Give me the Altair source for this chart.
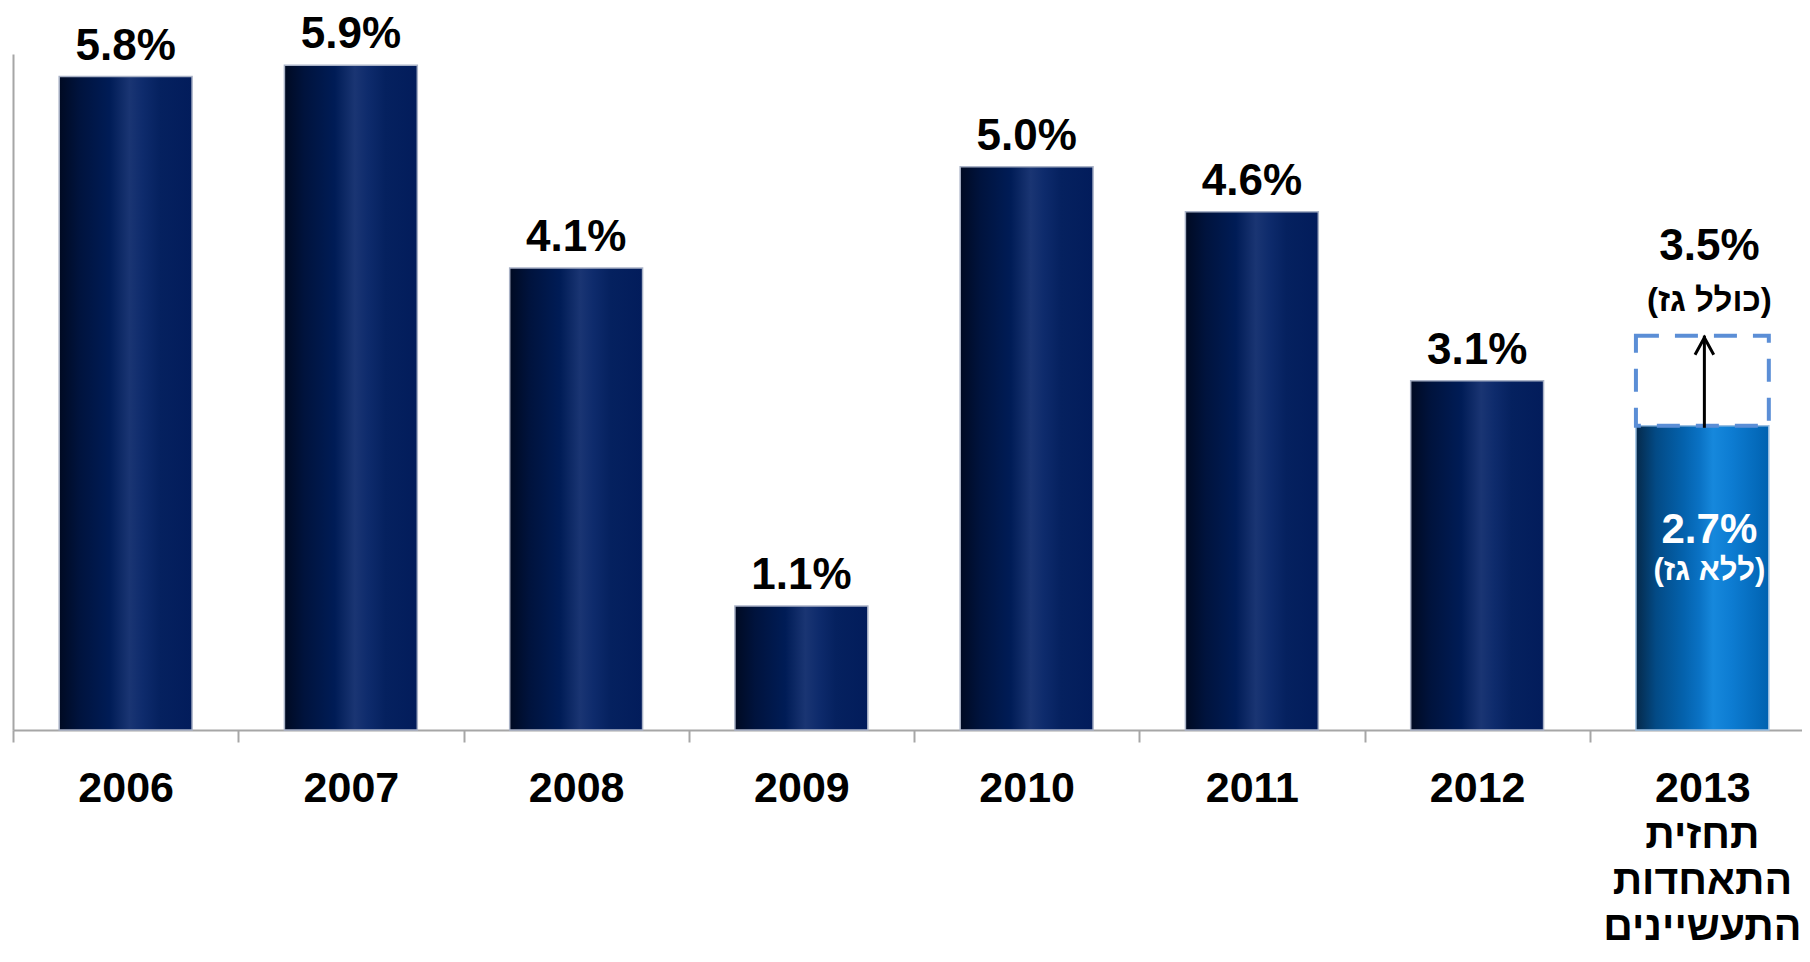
import altair as alt
import pandas as pd

# ---- data ----
years = ["2006", "2007", "2008", "2009", "2010", "2011", "2012", "2013"]
growth = [5.8, 5.9, 4.1, 1.1, 5.0, 4.6, 3.1, 2.7]
series = ["actual", "actual", "actual", "actual", "actual", "actual", "actual", "forecast"]

forecast_year = ["2013"]
forecast_without_gas = [2.7]
forecast_with_gas = [3.5]
with_gas_note = ["(כולל גז)"]
without_gas_note = ["(ללא גז)"]
forecast_caption_lines = ["תחזית", "התאחדות", "התעשיינים"]

FONT = "Liberation Sans, Arial, DejaVu Sans, sans-serif"

df = pd.DataFrame({"year": years, "growth": growth, "series": series})
fc = pd.DataFrame({
    "year": forecast_year,
    "low": forecast_without_gas,
    "high": forecast_with_gas,
    "note_hi": with_gas_note,
    "note_lo": without_gas_note,
    "caption": [forecast_caption_lines],
})

X_RANGE = 1802          # full category extent (runs past the visible edge like the reference)
HALF_STEP = X_RANGE / len(years) / 2

x_enc = alt.X(
    "year:N",
    sort=years,
    scale=alt.Scale(domain=years, range=[0, X_RANGE], paddingInner=0.41, paddingOuter=0.205),
    axis=alt.Axis(
        title=None,
        labelAngle=0,
        tickSize=12,
        tickWidth=2,
        tickColor="#a6a6a6",
        tickOffset=-HALF_STEP,
        labelOffset=HALF_STEP,
        domainColor="#a6a6a6",
        domainWidth=2,
        labelFont=FONT,
        labelFontSize=43,
        labelFontWeight="bold",
        labelColor="black",
        labelPadding=59,
        labelBaseline="alphabetic",
        labelLimit=0,
    ),
)

y_scale = alt.Scale(domain=[0, 6], nice=False, zero=True)
y_axis = alt.Axis(title=None, labels=False, ticks=False, grid=False,
                  domainColor="#a6a6a6", domainWidth=2)

navy = alt.Gradient(
    gradient="linear", x1=0, x2=1, y1=0, y2=0,
    stops=[
        alt.GradientStop(color="#000a22", offset=0),
        alt.GradientStop(color="#00133d", offset=0.15),
        alt.GradientStop(color="#001c56", offset=0.38),
        alt.GradientStop(color="#1a3573", offset=0.53),
        alt.GradientStop(color="#0e2b6c", offset=0.63),
        alt.GradientStop(color="#05215f", offset=0.76),
        alt.GradientStop(color="#021c5b", offset=1),
    ],
)
blue = alt.Gradient(
    gradient="linear", x1=0, x2=1, y1=0, y2=0,
    stops=[
        alt.GradientStop(color="#05294a", offset=0),
        alt.GradientStop(color="#034a85", offset=0.15),
        alt.GradientStop(color="#0462ad", offset=0.36),
        alt.GradientStop(color="#0a72c4", offset=0.48),
        alt.GradientStop(color="#1688dc", offset=0.58),
        alt.GradientStop(color="#0d7cd2", offset=0.72),
        alt.GradientStop(color="#0062b0", offset=1),
    ],
)

base = alt.Chart(df)

bars_actual = base.transform_filter("datum.series == 'actual'").mark_bar(
    color=navy, stroke="#aab3c7", strokeWidth=1.5
).encode(x=x_enc, y=alt.Y("growth:Q", scale=y_scale, axis=y_axis))

bars_fc = base.transform_filter("datum.series == 'forecast'").mark_bar(
    color=blue, stroke="#9cc0e2", strokeWidth=1.5
).encode(x=x_enc, y=alt.Y("growth:Q", scale=y_scale, axis=y_axis))

labels_actual = base.transform_filter("datum.series == 'actual'").transform_calculate(
    label="format(datum.growth, '.1f') + '%'"
).mark_text(
    font=FONT, fontSize=44, fontWeight="bold", color="black",
    baseline="alphabetic", dy=-17
).encode(x=x_enc, y=alt.Y("growth:Q", scale=y_scale, axis=y_axis), text="label:N")

fcb = alt.Chart(fc)

dashed_box = fcb.mark_bar(
    fill="transparent", stroke="#5b8ed6", strokeWidth=4, strokeDash=[23, 16]
).encode(x=x_enc, y=alt.Y("low:Q", scale=y_scale, axis=y_axis), y2="high:Q")

arrow_line = fcb.mark_rule(color="black", strokeWidth=3, yOffset=2, xOffset=2).encode(
    x=x_enc, y=alt.Y("low:Q", scale=y_scale, axis=y_axis), y2="high:Q"
)

arrow_head = fcb.mark_point(
    shape="M-0.55,1L0,0L0.55,1", filled=False, stroke="black", strokeWidth=3,
    size=1156, opacity=1, yOffset=2, xOffset=2
).encode(x=x_enc, y=alt.Y("high:Q", scale=y_scale, axis=y_axis))

hi_label = fcb.transform_calculate(
    label="format(datum.high, '.1f') + '%'"
).mark_text(
    font=FONT, fontSize=44, fontWeight="bold", color="black",
    baseline="alphabetic", dy=-76, dx=7
).encode(x=x_enc, y=alt.Y("high:Q", scale=y_scale, axis=y_axis), text="label:N")

hi_note = fcb.mark_text(
    font=FONT, fontSize=33, fontWeight="bold", color="black",
    baseline="alphabetic", dy=-25, dx=7
).encode(x=x_enc, y=alt.Y("high:Q", scale=y_scale, axis=y_axis), text="note_hi:N")

lo_label = fcb.transform_calculate(
    label="format(datum.low, '.1f') + '%'"
).mark_text(
    font=FONT, fontSize=42, fontWeight="bold", color="white",
    baseline="alphabetic", dy=117, dx=7
).encode(x=x_enc, y=alt.Y("low:Q", scale=y_scale, axis=y_axis), text="label:N")

lo_note = fcb.mark_text(
    font=FONT, fontSize=31, fontWeight="bold", color="white",
    baseline="alphabetic", dy=154, dx=7
).encode(x=x_enc, y=alt.Y("low:Q", scale=y_scale, axis=y_axis), text="note_lo:N")

caption = fcb.mark_text(
    font=FONT, fontSize=41, fontWeight="bold", color="black",
    baseline="alphabetic", dy=118, lineHeight=46
).encode(x=x_enc, y=alt.Y(datum=0, scale=y_scale, axis=y_axis), text="caption")

chart = alt.layer(
    bars_actual, bars_fc, labels_actual, dashed_box, arrow_line, arrow_head,
    hi_label, hi_note, lo_label, lo_note, caption
).properties(
    width=1789,
    height=676,
    autosize=alt.AutoSizeParams(type="none"),
    padding={"left": 5, "top": 46, "right": 0, "bottom": 218},
    background="white",
).configure_view(stroke="transparent")

chart.save("out.html", embed_options={"renderer": "svg", "actions": False})
